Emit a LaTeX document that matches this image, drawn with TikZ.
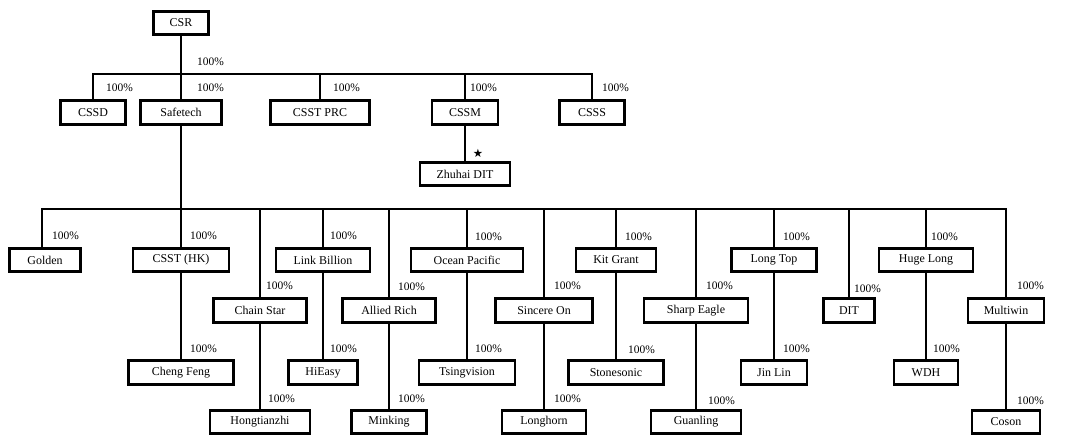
\documentclass[tikz,border=0pt]{standalone}
\usepackage{fontspec}
\setmainfont{Liberation Serif}
\newfontfamily\symfont{DejaVu Sans}
\begin{document}
\begin{tikzpicture}[x=1bp,y=-1bp]
\tikzset{
  box/.style={draw, line width=2.7bp, minimum height=23.5bp, inner sep=0pt, fill=white,
    font=\fontsize{12}{13}\selectfont},
  pct/.style={anchor=west, inner sep=0pt, font=\fontsize{11.5}{13}\selectfont},
  wire/.style={line width=2.5bp},
}
\useasboundingbox (0,0) rectangle (1081,445);
% level 0
\node[box, minimum width=55bp] (csr) at (181,23) {CSR};
% level 1
\node[box, minimum width=65bp] (cssd) at (93,112.5) {CSSD};
\node[box, minimum width=81bp] (safetech) at (181,112.5) {Safetech};
\node[box, minimum width=99bp] (csstprc) at (320,112.5) {CSST PRC};
\node[box, minimum width=66bp] (cssm) at (465,112.5) {CSSM};
\node[box, minimum width=65bp] (csss) at (592,112.5) {CSSS};
\node[box, minimum width=90bp] (zhuhai) at (465,174) {Zhuhai DIT};
% level 2 upper row
\node[box, minimum width=71bp] (golden) at (45,260) {Golden};
\node[box, minimum width=96bp] (cssthk) at (181,260) {CSST (HK)};
\node[box, minimum width=94bp] (linkbillion) at (323,260) {Link Billion};
\node[box, minimum width=112bp] (oceanpacific) at (467,260) {Ocean Pacific};
\node[box, minimum width=80bp] (kitgrant) at (616,260) {Kit Grant};
\node[box, minimum width=85bp] (longtop) at (774,260) {Long Top};
\node[box, minimum width=94bp] (hugelong) at (926,260) {Huge Long};
% level 2 lower row
\node[box, minimum width=93bp] (chainstar) at (260,310.5) {Chain Star};
\node[box, minimum width=93bp] (alliedrich) at (389,310.5) {Allied Rich};
\node[box, minimum width=97bp] (sincereon) at (544,310.5) {Sincere On};
\node[box, minimum width=104bp] (sharpeagle) at (696,310.5) {Sharp Eagle};
\node[box, minimum width=51bp] (dit) at (849,310.5) {DIT};
\node[box, minimum width=76bp] (multiwin) at (1006,310.5) {Multiwin};
% level 3 upper row
\node[box, minimum width=105bp] (chengfeng) at (181,372.5) {Cheng Feng};
\node[box, minimum width=69bp] (hieasy) at (323,372.5) {HiEasy};
\node[box, minimum width=96bp] (tsingvision) at (467,372.5) {Tsingvision};
\node[box, minimum width=95bp] (stonesonic) at (616,372.5) {Stonesonic};
\node[box, minimum width=66bp] (jinlin) at (774,372.5) {Jin Lin};
\node[box, minimum width=64bp] (wdh) at (926,372.5) {WDH};
% level 3 lower row
\node[box, minimum width=100bp] (hongtianzhi) at (260,422) {Hongtianzhi};
\node[box, minimum width=75bp] (minking) at (389,422) {Minking};
\node[box, minimum width=84bp] (longhorn) at (544,422) {Longhorn};
\node[box, minimum width=90bp] (guanling) at (696,422) {Guanling};
\node[box, minimum width=68bp] (coson) at (1006,422) {Coson};
% bars
\coordinate (b1) at (181,74);
\coordinate (b2) at (181,209);
\coordinate (b2l) at (42,209);
\coordinate (b2r) at (1006,209);
% connectors level 0-1
\draw[wire] (csr.south) -- (b1);
\draw[wire] (cssd.north) |- (b1) -| (csss.north);
\draw[wire] (safetech.north) -- (b1);
\draw[wire] (csstprc.north) -- (csstprc.north |- b1);
\draw[wire] (cssm.north) -- (cssm.north |- b1);
\draw[wire] (cssm.south) -- (zhuhai.north);
% connectors level 1-2
\draw[wire] (safetech.south) -- (b2);
\draw[wire] (b2l |- golden.north) -- (b2l) -- (b2r) -- (multiwin.north);
\foreach \n in {cssthk,linkbillion,oceanpacific,kitgrant,longtop,hugelong,chainstar,alliedrich,sincereon,sharpeagle,dit}
  \draw[wire] (\n.north) -- (\n.north |- b2);
% connectors level 2-3
\draw[wire] (cssthk.south) -- (chengfeng.north);
\draw[wire] (chainstar.south) -- (hongtianzhi.north);
\draw[wire] (linkbillion.south) -- (hieasy.north);
\draw[wire] (alliedrich.south) -- (minking.north);
\draw[wire] (oceanpacific.south) -- (tsingvision.north);
\draw[wire] (sincereon.south) -- (longhorn.north);
\draw[wire] (kitgrant.south) -- (stonesonic.north);
\draw[wire] (sharpeagle.south) -- (guanling.north);
\draw[wire] (longtop.south) -- (jinlin.north);
\draw[wire] (hugelong.south) -- (wdh.north);
\draw[wire] (multiwin.south) -- (coson.north);
% star
\node[inner sep=0pt, font=\symfont\fontsize{11.5}{12}\selectfont] (star) at (478,153) {★};
% percentage labels
\node[pct] (p-csr) at (197,62) {100\%};
\node[pct] (p-cssd) at (106,88) {100\%};
\node[pct] (p-safetech) at (197,88) {100\%};
\node[pct] (p-csstprc) at (333,88) {100\%};
\node[pct] (p-cssm) at (470,88) {100\%};
\node[pct] (p-csss) at (602,88) {100\%};
\node[pct] (p-golden) at (52,236) {100\%};
\node[pct] (p-cssthk) at (190,236) {100\%};
\node[pct] (p-chainstar) at (266,286) {100\%};
\node[pct] (p-linkbillion) at (330,236) {100\%};
\node[pct] (p-alliedrich) at (398,287) {100\%};
\node[pct] (p-oceanpacific) at (475,237) {100\%};
\node[pct] (p-sincereon) at (554,286) {100\%};
\node[pct] (p-kitgrant) at (625,237) {100\%};
\node[pct] (p-sharpeagle) at (706,286) {100\%};
\node[pct] (p-longtop) at (783,237) {100\%};
\node[pct] (p-dit) at (854,289) {100\%};
\node[pct] (p-hugelong) at (931,237) {100\%};
\node[pct] (p-multiwin) at (1017,286) {100\%};
\node[pct] (p-chengfeng) at (190,349) {100\%};
\node[pct] (p-hongtianzhi) at (268,399) {100\%};
\node[pct] (p-hieasy) at (330,349) {100\%};
\node[pct] (p-minking) at (398,399) {100\%};
\node[pct] (p-tsingvision) at (475,349) {100\%};
\node[pct] (p-longhorn) at (554,399) {100\%};
\node[pct] (p-stonesonic) at (628,350) {100\%};
\node[pct] (p-guanling) at (708,401) {100\%};
\node[pct] (p-jinlin) at (783,349) {100\%};
\node[pct] (p-wdh) at (933,349) {100\%};
\node[pct] (p-coson) at (1017,401) {100\%};
\end{tikzpicture}
\end{document}
